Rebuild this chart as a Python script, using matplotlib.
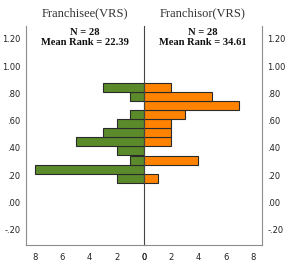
import numpy as np
import matplotlib
matplotlib.use("Agg")
from matplotlib import pyplot as plt

# VRS bins (centres) and counts per group, bottom to top
vrs_bins = [0.178, 0.245, 0.311, 0.378, 0.444, 0.511, 0.577, 0.644, 0.710, 0.777, 0.843]
bin_width = 0.0665
franchisee_counts = [2, 8, 1, 2, 5, 3, 2, 1, 0, 1, 3]
franchisor_counts = [1, 0, 4, 0, 2, 2, 2, 3, 7, 5, 2]

groups = ["Franchisee(VRS)", "Franchisor(VRS)"]
n_values = [28, 28]
mean_ranks = [22.39, 34.61]

yticks = [-0.2, 0.0, 0.2, 0.4, 0.6, 0.8, 1.0, 1.2]
ytick_labels = ["-.20", ".00", ".20", ".40", ".60", ".80", "1.00", "1.20"]
xticks = [0, 2, 4, 6, 8]

green = "#5b8a2b"
orange = "#ff8300"
axis_grey = "#8c8c8c"

fig = plt.figure(figsize=(2.87, 2.61), dpi=100)
W, H = 287.0, 261.0
left_x, mid_x, right_x = 26, 144, 262
bottom_y, top_y = 245, 26
ax_l = fig.add_axes([left_x / W, (H - bottom_y) / H, (mid_x - left_x) / W, (bottom_y - top_y) / H])
ax_r = fig.add_axes([mid_x / W, (H - bottom_y) / H, (right_x - mid_x) / W, (bottom_y - top_y) / H])

xmax = 8.68
ymin, ymax = -0.311, 1.293

ax_l.barh(vrs_bins, franchisee_counts, height=bin_width, color=green,
          edgecolor="#2a2a2a", linewidth=0.8)
ax_r.barh(vrs_bins, franchisor_counts, height=bin_width, color=orange,
          edgecolor="#2a2a2a", linewidth=0.8)

ax_l.set_xlim(xmax, 0)
ax_r.set_xlim(0, xmax)
for ax in (ax_l, ax_r):
    ax.set_ylim(ymin, ymax)
    ax.set_xticks(xticks)
    ax.set_xticklabels([str(t) for t in xticks])
    ax.spines["top"].set_visible(False)
    ax.spines["bottom"].set_color(axis_grey)
    ax.tick_params(axis="x", length=0, pad=6, labelsize=6, colors="#222222")
    ax.tick_params(axis="y", length=0, labelsize=6, colors="#222222")
    ax.set_yticks(yticks)
    ax.set_facecolor("none")

ax_l.spines["left"].set_color(axis_grey)
ax_l.spines["right"].set_visible(False)
ax_l.set_yticklabels(ytick_labels)
ax_l.tick_params(axis="y", pad=4)

# centre line between the two halves
ax_r.spines["left"].set_color("#444444")
ax_r.spines["left"].set_linewidth(0.8)
ax_r.spines["right"].set_color(axis_grey)
ax_r.yaxis.tick_right()
ax_r.set_yticklabels(ytick_labels)
ax_r.tick_params(axis="y", pad=4)

for ax, name, n, mr in zip((ax_l, ax_r), groups, n_values, mean_ranks):
    ax.text(0.5, 1.06, name, transform=ax.transAxes, ha="center", va="center",
            fontsize=9, family="Liberation Serif", color="#333333")
    ax.text(0.5, 0.99, "N = %d\nMean Rank = %.2f" % (n, mr), transform=ax.transAxes,
            ha="center", va="top", fontsize=7.6, family="Liberation Serif",
            fontweight="bold", linespacing=1.15, color="#111111")

fig.savefig("out.png", dpi=100)
